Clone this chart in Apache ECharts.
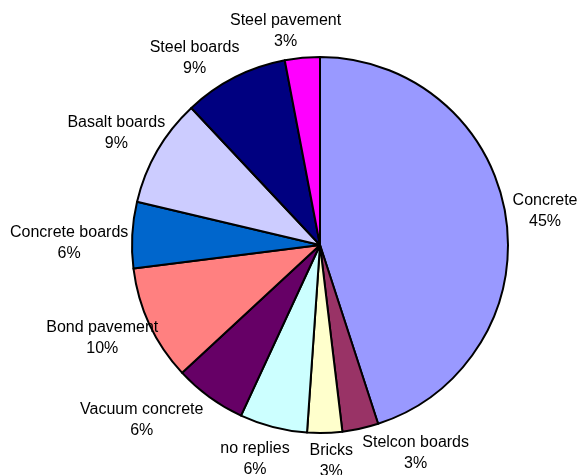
<!DOCTYPE html>
<html>
<head>
<meta charset="utf-8">
<script src="https://cdn.jsdelivr.net/npm/echarts@6/dist/echarts.min.js"></script>
<style>html,body{margin:0;padding:0;background:#fff;}#c{width:578px;height:475px;}</style>
</head>
<body>
<div id="c"></div>
<script>
const categories = ['Concrete','Stelcon boards','Bricks','no replies','Vacuum concrete','Bond pavement','Concrete boards','Basalt boards','Steel boards','Steel pavement'];
const values = [45.0, 3.1, 3.0, 5.8, 6.2, 9.9, 5.7, 9.3, 9.0, 3.0];
const colors = ['#9999FF','#993366','#FFFFCC','#CCFFFF','#660066','#FF8080','#0066CC','#CCCCFF','#000080','#FF00FF'];

// label placement tweaks (layout only, pixels)
const labelShiftX = [0, 25, 5, 5, -2, 15, 3, 14, 8, -3];
const labelShiftY = [0, -3, 0, 5, 0, 2, 10, -4, 6, 1];

const CX = 320, CY = 245, R = 188, GAP = 7;
const total = values.reduce((a, b) => a + b, 0);

function midAngle(i) {
  let s = 0;
  for (let k = 0; k < i; k++) s += values[k];
  return ((s + values[i] / 2) / total) * 2 * Math.PI;
}

const chart = echarts.init(document.getElementById('c'), null, {renderer: 'canvas'});
chart.setOption({
  backgroundColor: '#ffffff',
  animation: false,
  color: colors,
  series: [{
    type: 'pie',
    center: [CX, CY],
    radius: [0, R],
    startAngle: 90,
    clockwise: true,
    percentPrecision: 0,
    avoidLabelOverlap: false,
    itemStyle: {borderColor: '#000000', borderWidth: 2},
    emphasis: {disabled: true},
    label: {
      show: true,
      position: 'outside',
      formatter: '{b}\n{d}%',
      fontFamily: 'Liberation Sans, Arial, sans-serif',
      fontSize: 16,
      lineHeight: 21,
      color: '#000000',
      align: 'center'
    },
    labelLine: {show: false},
    labelLayout: function (p) {
      const i = p.dataIndex;
      const a = midAngle(i);
      const ux = Math.sin(a), uy = -Math.cos(a);
      const w = p.labelRect.width, h = p.labelRect.height;
      const ax = CX + (R + GAP) * ux, ay = CY + (R + GAP) * uy;
      const fx = Math.max(-1, Math.min(1, ux * 2.5));
      const fy = uy;
      return {
        x: ax + fx * w / 2 + labelShiftX[i],
        y: ay + fy * h / 2 + labelShiftY[i],
        align: 'center',
        verticalAlign: 'middle'
      };
    },
    data: categories.map((n, i) => ({name: n, value: values[i]}))
  }]
});
</script>
</body>
</html>
